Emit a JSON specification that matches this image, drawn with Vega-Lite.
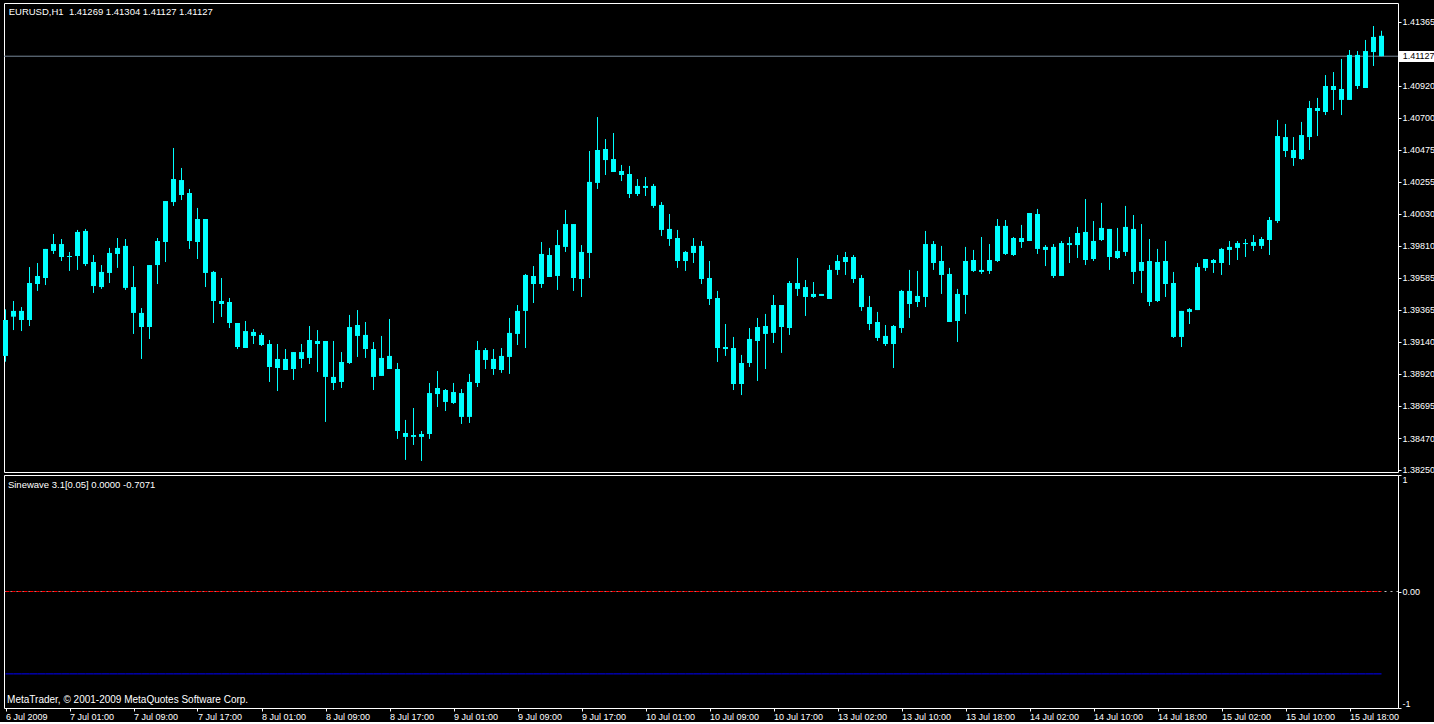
{
  "$schema": "https://vega.github.io/schema/vega-lite/v6.json",
  "background": "#000000",
  "padding": {"left": 2, "top": 2, "right": 0, "bottom": 0},
  "bounds": "flush",
  "spacing": 3,
  "config": {
    "view": {"stroke": "#FFFFFF", "strokeWidth": 1},
    "axis": {"labelColor": "#FFFFFF", "tickColor": "#FFFFFF", "labelFont": "Liberation Sans", "labelFontSize": 9, "domain": false, "grid": false},
    "text": {"font": "Liberation Sans", "fontSize": 9.5}
  },
  "datasets": {
    "bars": [
      {"i":0,"o":1.39043,"h":1.39367,"l":1.39003,"c":1.39293,"sine":0,"lead":-0.7071},
      {"i":1,"o":1.39316,"h":1.39425,"l":1.39223,"c":1.39356,"sine":0,"lead":-0.7071},
      {"i":2,"o":1.39356,"h":1.39383,"l":1.39216,"c":1.39293,"sine":0,"lead":-0.7071},
      {"i":3,"o":1.39293,"h":1.39661,"l":1.39251,"c":1.39550,"sine":0,"lead":-0.7071},
      {"i":4,"o":1.39543,"h":1.39689,"l":1.39495,"c":1.39599,"sine":0,"lead":-0.7071},
      {"i":5,"o":1.39585,"h":1.39787,"l":1.39536,"c":1.39787,"sine":0,"lead":-0.7071},
      {"i":6,"o":1.39773,"h":1.39891,"l":1.39752,"c":1.39821,"sine":0,"lead":-0.7071},
      {"i":7,"o":1.39821,"h":1.39856,"l":1.39703,"c":1.39731,"sine":0,"lead":-0.7071},
      {"i":8,"o":1.39731,"h":1.39766,"l":1.39634,"c":1.39738,"sine":0,"lead":-0.7071},
      {"i":9,"o":1.39738,"h":1.39919,"l":1.39641,"c":1.39905,"sine":0,"lead":-0.7071},
      {"i":10,"o":1.39912,"h":1.39926,"l":1.39668,"c":1.39682,"sine":0,"lead":-0.7071},
      {"i":11,"o":1.39696,"h":1.39745,"l":1.39481,"c":1.39529,"sine":0,"lead":-0.7071},
      {"i":12,"o":1.39522,"h":1.39675,"l":1.39509,"c":1.39627,"sine":0,"lead":-0.7071},
      {"i":13,"o":1.39620,"h":1.39794,"l":1.39550,"c":1.39759,"sine":0,"lead":-0.7071},
      {"i":14,"o":1.39752,"h":1.39863,"l":1.39655,"c":1.39794,"sine":0,"lead":-0.7071},
      {"i":15,"o":1.39808,"h":1.39856,"l":1.39502,"c":1.39516,"sine":0,"lead":-0.7071},
      {"i":16,"o":1.39522,"h":1.39668,"l":1.39196,"c":1.39342,"sine":0,"lead":-0.7071},
      {"i":17,"o":1.39342,"h":1.39376,"l":1.39022,"c":1.39244,"sine":0,"lead":-0.7071},
      {"i":18,"o":1.39244,"h":1.39675,"l":1.39161,"c":1.39675,"sine":0,"lead":-0.7071},
      {"i":19,"o":1.39675,"h":1.39863,"l":1.39543,"c":1.39842,"sine":0,"lead":-0.7071},
      {"i":20,"o":1.39835,"h":1.40120,"l":1.39696,"c":1.40120,"sine":0,"lead":-0.7071},
      {"i":21,"o":1.40113,"h":1.40489,"l":1.40086,"c":1.40273,"sine":0,"lead":-0.7071},
      {"i":22,"o":1.40266,"h":1.40350,"l":1.40127,"c":1.40162,"sine":0,"lead":-0.7071},
      {"i":23,"o":1.40176,"h":1.40204,"l":1.39787,"c":1.39842,"sine":0,"lead":-0.7071},
      {"i":24,"o":1.39835,"h":1.40072,"l":1.39717,"c":1.39995,"sine":0,"lead":-0.7071},
      {"i":25,"o":1.39995,"h":1.39995,"l":1.39522,"c":1.39620,"sine":0,"lead":-0.7071},
      {"i":26,"o":1.39627,"h":1.39634,"l":1.39272,"c":1.39425,"sine":0,"lead":-0.7071},
      {"i":27,"o":1.39425,"h":1.39585,"l":1.39314,"c":1.39404,"sine":0,"lead":-0.7071},
      {"i":28,"o":1.39418,"h":1.39446,"l":1.39237,"c":1.39272,"sine":0,"lead":-0.7071},
      {"i":29,"o":1.39272,"h":1.39272,"l":1.39091,"c":1.39105,"sine":0,"lead":-0.7071},
      {"i":30,"o":1.39098,"h":1.39286,"l":1.39098,"c":1.39216,"sine":0,"lead":-0.7071},
      {"i":31,"o":1.39210,"h":1.39230,"l":1.39126,"c":1.39182,"sine":0,"lead":-0.7071},
      {"i":32,"o":1.39189,"h":1.39203,"l":1.39112,"c":1.39119,"sine":0,"lead":-0.7071},
      {"i":33,"o":1.39126,"h":1.39154,"l":1.38862,"c":1.38966,"sine":0,"lead":-0.7071},
      {"i":34,"o":1.38959,"h":1.39126,"l":1.38799,"c":1.39022,"sine":0,"lead":-0.7071},
      {"i":35,"o":1.39022,"h":1.39091,"l":1.38945,"c":1.38945,"sine":0,"lead":-0.7071},
      {"i":36,"o":1.38952,"h":1.39070,"l":1.38876,"c":1.39070,"sine":0,"lead":-0.7071},
      {"i":37,"o":1.39070,"h":1.39126,"l":1.38959,"c":1.39022,"sine":0,"lead":-0.7071},
      {"i":38,"o":1.39029,"h":1.39251,"l":1.38987,"c":1.39154,"sine":0,"lead":-0.7071},
      {"i":39,"o":1.39147,"h":1.39223,"l":1.38931,"c":1.39126,"sine":0,"lead":-0.7071},
      {"i":40,"o":1.39147,"h":1.39147,"l":1.38584,"c":1.38897,"sine":0,"lead":-0.7071},
      {"i":41,"o":1.38897,"h":1.39147,"l":1.38806,"c":1.38855,"sine":0,"lead":-0.7071},
      {"i":42,"o":1.38862,"h":1.39070,"l":1.38820,"c":1.39001,"sine":0,"lead":-0.7071},
      {"i":43,"o":1.38994,"h":1.39328,"l":1.38987,"c":1.39244,"sine":0,"lead":-0.7071},
      {"i":44,"o":1.39258,"h":1.39362,"l":1.39036,"c":1.39182,"sine":0,"lead":-0.7071},
      {"i":45,"o":1.39189,"h":1.39279,"l":1.39029,"c":1.39091,"sine":0,"lead":-0.7071},
      {"i":46,"o":1.39091,"h":1.39140,"l":1.38806,"c":1.38897,"sine":0,"lead":-0.7071},
      {"i":47,"o":1.38904,"h":1.39182,"l":1.38904,"c":1.39029,"sine":0,"lead":-0.7071},
      {"i":48,"o":1.39043,"h":1.39300,"l":1.38952,"c":1.38952,"sine":0,"lead":-0.7071},
      {"i":49,"o":1.38952,"h":1.38994,"l":1.38466,"c":1.38521,"sine":0,"lead":-0.7071},
      {"i":50,"o":1.38507,"h":1.38598,"l":1.38320,"c":1.38480,"sine":0,"lead":-0.7071},
      {"i":51,"o":1.38480,"h":1.38681,"l":1.38424,"c":1.38493,"sine":0,"lead":-0.7071},
      {"i":52,"o":1.38500,"h":1.38521,"l":1.38313,"c":1.38480,"sine":0,"lead":-0.7071},
      {"i":53,"o":1.38500,"h":1.38855,"l":1.38466,"c":1.38785,"sine":0,"lead":-0.7071},
      {"i":54,"o":1.38778,"h":1.38938,"l":1.38688,"c":1.38820,"sine":0,"lead":-0.7071},
      {"i":55,"o":1.38806,"h":1.38813,"l":1.38660,"c":1.38723,"sine":0,"lead":-0.7071},
      {"i":56,"o":1.38716,"h":1.38855,"l":1.38709,"c":1.38792,"sine":0,"lead":-0.7071},
      {"i":57,"o":1.38785,"h":1.38813,"l":1.38570,"c":1.38619,"sine":0,"lead":-0.7071},
      {"i":58,"o":1.38619,"h":1.38918,"l":1.38577,"c":1.38862,"sine":0,"lead":-0.7071},
      {"i":59,"o":1.38855,"h":1.39147,"l":1.38827,"c":1.39084,"sine":0,"lead":-0.7071},
      {"i":60,"o":1.39084,"h":1.39098,"l":1.38952,"c":1.39015,"sine":0,"lead":-0.7071},
      {"i":61,"o":1.39022,"h":1.39091,"l":1.38911,"c":1.38952,"sine":0,"lead":-0.7071},
      {"i":62,"o":1.38945,"h":1.39098,"l":1.38925,"c":1.39043,"sine":0,"lead":-0.7071},
      {"i":63,"o":1.39036,"h":1.39307,"l":1.38918,"c":1.39203,"sine":0,"lead":-0.7071},
      {"i":64,"o":1.39196,"h":1.39397,"l":1.39119,"c":1.39356,"sine":0,"lead":-0.7071},
      {"i":65,"o":1.39356,"h":1.39613,"l":1.39098,"c":1.39606,"sine":0,"lead":-0.7071},
      {"i":66,"o":1.39599,"h":1.39668,"l":1.39411,"c":1.39543,"sine":0,"lead":-0.7071},
      {"i":67,"o":1.39543,"h":1.39835,"l":1.39516,"c":1.39752,"sine":0,"lead":-0.7071},
      {"i":68,"o":1.39745,"h":1.39794,"l":1.39592,"c":1.39592,"sine":0,"lead":-0.7071},
      {"i":69,"o":1.39599,"h":1.39919,"l":1.39502,"c":1.39814,"sine":0,"lead":-0.7071},
      {"i":70,"o":1.39801,"h":1.40058,"l":1.39766,"c":1.39960,"sine":0,"lead":-0.7071},
      {"i":71,"o":1.39960,"h":1.39960,"l":1.39495,"c":1.39585,"sine":0,"lead":-0.7071},
      {"i":72,"o":1.39578,"h":1.39814,"l":1.39453,"c":1.39766,"sine":0,"lead":-0.7071},
      {"i":73,"o":1.39759,"h":1.40468,"l":1.39585,"c":1.40253,"sine":0,"lead":-0.7071},
      {"i":74,"o":1.40246,"h":1.40704,"l":1.40204,"c":1.40475,"sine":0,"lead":-0.7071},
      {"i":75,"o":1.40482,"h":1.40551,"l":1.40301,"c":1.40405,"sine":0,"lead":-0.7071},
      {"i":76,"o":1.40412,"h":1.40593,"l":1.40322,"c":1.40322,"sine":0,"lead":-0.7071},
      {"i":77,"o":1.40329,"h":1.40371,"l":1.40259,"c":1.40301,"sine":0,"lead":-0.7071},
      {"i":78,"o":1.40308,"h":1.40364,"l":1.40141,"c":1.40169,"sine":0,"lead":-0.7071},
      {"i":79,"o":1.40169,"h":1.40273,"l":1.40155,"c":1.40225,"sine":0,"lead":-0.7071},
      {"i":80,"o":1.40225,"h":1.40287,"l":1.40155,"c":1.40211,"sine":0,"lead":-0.7071},
      {"i":81,"o":1.40225,"h":1.40239,"l":1.40072,"c":1.40086,"sine":0,"lead":-0.7071},
      {"i":82,"o":1.40093,"h":1.40113,"l":1.39877,"c":1.39919,"sine":0,"lead":-0.7071},
      {"i":83,"o":1.39926,"h":1.40030,"l":1.39808,"c":1.39856,"sine":0,"lead":-0.7071},
      {"i":84,"o":1.39863,"h":1.39919,"l":1.39655,"c":1.39703,"sine":0,"lead":-0.7071},
      {"i":85,"o":1.39703,"h":1.39773,"l":1.39634,"c":1.39766,"sine":0,"lead":-0.7071},
      {"i":86,"o":1.39759,"h":1.39863,"l":1.39689,"c":1.39808,"sine":0,"lead":-0.7071},
      {"i":87,"o":1.39808,"h":1.39842,"l":1.39543,"c":1.39578,"sine":0,"lead":-0.7071},
      {"i":88,"o":1.39585,"h":1.39703,"l":1.39397,"c":1.39439,"sine":0,"lead":-0.7071},
      {"i":89,"o":1.39446,"h":1.39495,"l":1.39001,"c":1.39098,"sine":0,"lead":-0.7071},
      {"i":90,"o":1.39091,"h":1.39265,"l":1.39043,"c":1.39105,"sine":0,"lead":-0.7071},
      {"i":91,"o":1.39098,"h":1.39175,"l":1.38806,"c":1.38848,"sine":0,"lead":-0.7071},
      {"i":92,"o":1.38848,"h":1.39050,"l":1.38771,"c":1.38994,"sine":0,"lead":-0.7071},
      {"i":93,"o":1.38994,"h":1.39237,"l":1.38966,"c":1.39161,"sine":0,"lead":-0.7071},
      {"i":94,"o":1.39147,"h":1.39307,"l":1.38869,"c":1.39244,"sine":0,"lead":-0.7071},
      {"i":95,"o":1.39251,"h":1.39335,"l":1.38952,"c":1.39196,"sine":0,"lead":-0.7071},
      {"i":96,"o":1.39203,"h":1.39467,"l":1.39133,"c":1.39397,"sine":0,"lead":-0.7071},
      {"i":97,"o":1.39397,"h":1.39397,"l":1.39064,"c":1.39244,"sine":0,"lead":-0.7071},
      {"i":98,"o":1.39237,"h":1.39564,"l":1.39189,"c":1.39550,"sine":0,"lead":-0.7071},
      {"i":99,"o":1.39550,"h":1.39724,"l":1.39460,"c":1.39509,"sine":0,"lead":-0.7071},
      {"i":100,"o":1.39522,"h":1.39571,"l":1.39321,"c":1.39453,"sine":0,"lead":-0.7071},
      {"i":101,"o":1.39453,"h":1.39557,"l":1.39446,"c":1.39474,"sine":0,"lead":-0.7071},
      {"i":102,"o":1.39474,"h":1.39474,"l":1.39460,"c":1.39460,"sine":0,"lead":-0.7071},
      {"i":103,"o":1.39439,"h":1.39675,"l":1.39439,"c":1.39641,"sine":0,"lead":-0.7071},
      {"i":104,"o":1.39641,"h":1.39745,"l":1.39606,"c":1.39703,"sine":0,"lead":-0.7071},
      {"i":105,"o":1.39696,"h":1.39766,"l":1.39606,"c":1.39731,"sine":0,"lead":-0.7071},
      {"i":106,"o":1.39731,"h":1.39745,"l":1.39550,"c":1.39578,"sine":0,"lead":-0.7071},
      {"i":107,"o":1.39585,"h":1.39606,"l":1.39356,"c":1.39383,"sine":0,"lead":-0.7071},
      {"i":108,"o":1.39383,"h":1.39460,"l":1.39223,"c":1.39265,"sine":0,"lead":-0.7071},
      {"i":109,"o":1.39279,"h":1.39349,"l":1.39147,"c":1.39168,"sine":0,"lead":-0.7071},
      {"i":110,"o":1.39182,"h":1.39258,"l":1.39112,"c":1.39126,"sine":0,"lead":-0.7071},
      {"i":111,"o":1.39126,"h":1.39258,"l":1.38959,"c":1.39251,"sine":0,"lead":-0.7071},
      {"i":112,"o":1.39237,"h":1.39502,"l":1.39203,"c":1.39495,"sine":0,"lead":-0.7071},
      {"i":113,"o":1.39495,"h":1.39641,"l":1.39307,"c":1.39404,"sine":0,"lead":-0.7071},
      {"i":114,"o":1.39418,"h":1.39634,"l":1.39383,"c":1.39460,"sine":0,"lead":-0.7071},
      {"i":115,"o":1.39453,"h":1.39912,"l":1.39383,"c":1.39821,"sine":0,"lead":-0.7071},
      {"i":116,"o":1.39821,"h":1.39842,"l":1.39641,"c":1.39689,"sine":0,"lead":-0.7071},
      {"i":117,"o":1.39703,"h":1.39808,"l":1.39474,"c":1.39606,"sine":0,"lead":-0.7071},
      {"i":118,"o":1.39613,"h":1.39655,"l":1.39279,"c":1.39279,"sine":0,"lead":-0.7071},
      {"i":119,"o":1.39286,"h":1.39509,"l":1.39140,"c":1.39474,"sine":0,"lead":-0.7071},
      {"i":120,"o":1.39467,"h":1.39801,"l":1.39335,"c":1.39703,"sine":0,"lead":-0.7071},
      {"i":121,"o":1.39710,"h":1.39780,"l":1.39627,"c":1.39634,"sine":0,"lead":-0.7071},
      {"i":122,"o":1.39627,"h":1.39870,"l":1.39613,"c":1.39641,"sine":0,"lead":-0.7071},
      {"i":123,"o":1.39634,"h":1.39821,"l":1.39613,"c":1.39710,"sine":0,"lead":-0.7071},
      {"i":124,"o":1.39703,"h":1.39995,"l":1.39696,"c":1.39947,"sine":0,"lead":-0.7071},
      {"i":125,"o":1.39947,"h":1.39988,"l":1.39745,"c":1.39752,"sine":0,"lead":-0.7071},
      {"i":126,"o":1.39745,"h":1.39870,"l":1.39738,"c":1.39863,"sine":0,"lead":-0.7071},
      {"i":127,"o":1.39835,"h":1.39954,"l":1.39794,"c":1.39863,"sine":0,"lead":-0.7071},
      {"i":128,"o":1.39842,"h":1.40037,"l":1.39842,"c":1.40037,"sine":0,"lead":-0.7071},
      {"i":129,"o":1.40030,"h":1.40065,"l":1.39752,"c":1.39787,"sine":0,"lead":-0.7071},
      {"i":130,"o":1.39780,"h":1.39814,"l":1.39668,"c":1.39801,"sine":0,"lead":-0.7071},
      {"i":131,"o":1.39801,"h":1.39821,"l":1.39585,"c":1.39599,"sine":0,"lead":-0.7071},
      {"i":132,"o":1.39599,"h":1.39842,"l":1.39599,"c":1.39828,"sine":0,"lead":-0.7071},
      {"i":133,"o":1.39828,"h":1.39870,"l":1.39689,"c":1.39814,"sine":0,"lead":-0.7071},
      {"i":134,"o":1.39814,"h":1.39940,"l":1.39724,"c":1.39898,"sine":0,"lead":-0.7071},
      {"i":135,"o":1.39905,"h":1.40134,"l":1.39675,"c":1.39710,"sine":0,"lead":-0.7071},
      {"i":136,"o":1.39717,"h":1.39981,"l":1.39703,"c":1.39842,"sine":0,"lead":-0.7071},
      {"i":137,"o":1.39849,"h":1.40107,"l":1.39842,"c":1.39933,"sine":0,"lead":-0.7071},
      {"i":138,"o":1.39926,"h":1.39926,"l":1.39641,"c":1.39731,"sine":0,"lead":-0.7071},
      {"i":139,"o":1.39724,"h":1.39933,"l":1.39717,"c":1.39773,"sine":0,"lead":-0.7071},
      {"i":140,"o":1.39766,"h":1.40086,"l":1.39738,"c":1.39940,"sine":0,"lead":-0.7071},
      {"i":141,"o":1.39926,"h":1.40023,"l":1.39543,"c":1.39627,"sine":0,"lead":-0.7071},
      {"i":142,"o":1.39634,"h":1.39960,"l":1.39481,"c":1.39696,"sine":0,"lead":-0.7071},
      {"i":143,"o":1.39703,"h":1.39856,"l":1.39390,"c":1.39418,"sine":0,"lead":-0.7071},
      {"i":144,"o":1.39425,"h":1.39787,"l":1.39418,"c":1.39696,"sine":0,"lead":-0.7071},
      {"i":145,"o":1.39703,"h":1.39842,"l":1.39453,"c":1.39543,"sine":0,"lead":-0.7071},
      {"i":146,"o":1.39550,"h":1.39627,"l":1.39168,"c":1.39175,"sine":0,"lead":-0.7071},
      {"i":147,"o":1.39175,"h":1.39356,"l":1.39105,"c":1.39356,"sine":0,"lead":-0.7071},
      {"i":148,"o":1.39349,"h":1.39376,"l":1.39265,"c":1.39369,"sine":0,"lead":-0.7071},
      {"i":149,"o":1.39362,"h":1.39689,"l":1.39362,"c":1.39661,"sine":0,"lead":-0.7071},
      {"i":150,"o":1.39655,"h":1.39717,"l":1.39634,"c":1.39717,"sine":0,"lead":-0.7071},
      {"i":151,"o":1.39710,"h":1.39717,"l":1.39620,"c":1.39689,"sine":0,"lead":-0.7071},
      {"i":152,"o":1.39689,"h":1.39794,"l":1.39606,"c":1.39787,"sine":0,"lead":-0.7071},
      {"i":153,"o":1.39780,"h":1.39842,"l":1.39675,"c":1.39801,"sine":0,"lead":-0.7071},
      {"i":154,"o":1.39794,"h":1.39842,"l":1.39710,"c":1.39828,"sine":0,"lead":-0.7071},
      {"i":155,"o":1.39828,"h":1.39856,"l":1.39731,"c":1.39821,"sine":0,"lead":-0.7071},
      {"i":156,"o":1.39808,"h":1.39884,"l":1.39773,"c":1.39835,"sine":0,"lead":-0.7071},
      {"i":157,"o":1.39808,"h":1.39870,"l":1.39787,"c":1.39856,"sine":0,"lead":-0.7071},
      {"i":158,"o":1.39849,"h":1.40009,"l":1.39745,"c":1.39988,"sine":0,"lead":-0.7071},
      {"i":159,"o":1.39981,"h":1.40684,"l":1.39967,"c":1.40572,"sine":0,"lead":-0.7071},
      {"i":160,"o":1.40565,"h":1.40656,"l":1.40426,"c":1.40468,"sine":0,"lead":-0.7071},
      {"i":161,"o":1.40475,"h":1.40565,"l":1.40364,"c":1.40419,"sine":0,"lead":-0.7071},
      {"i":162,"o":1.40412,"h":1.40670,"l":1.40405,"c":1.40579,"sine":0,"lead":-0.7071},
      {"i":163,"o":1.40565,"h":1.40816,"l":1.40475,"c":1.40767,"sine":0,"lead":-0.7071},
      {"i":164,"o":1.40767,"h":1.40837,"l":1.40572,"c":1.40746,"sine":0,"lead":-0.7071},
      {"i":165,"o":1.40739,"h":1.40996,"l":1.40718,"c":1.40920,"sine":0,"lead":-0.7071},
      {"i":166,"o":1.40920,"h":1.41017,"l":1.40753,"c":1.40892,"sine":0,"lead":-0.7071},
      {"i":167,"o":1.40899,"h":1.41108,"l":1.40718,"c":1.40823,"sine":0,"lead":-0.7071},
      {"i":168,"o":1.40823,"h":1.41170,"l":1.40823,"c":1.41136,"sine":0,"lead":-0.7071},
      {"i":169,"o":1.41136,"h":1.41163,"l":1.40899,"c":1.40920,"sine":0,"lead":-0.7071},
      {"i":170,"o":1.40906,"h":1.41240,"l":1.40906,"c":1.41163,"sine":0,"lead":-0.7071},
      {"i":171,"o":1.41156,"h":1.41337,"l":1.41059,"c":1.41261,"sine":0,"lead":-0.7071},
      {"i":172,"o":1.41269,"h":1.41304,"l":1.41127,"c":1.41127,"sine":0,"lead":-0.7071}
    ]
  },
  "vconcat": [
    {
      "width": 1394,
      "height": 469,
      "data": {"name": "bars"},
      "layer": [
        {
          "data": {"values": [{"p": 1.41127}]},
          "mark": {"type": "rule", "color": "#778899", "strokeWidth": 1},
          "encoding": {
            "y": {"field": "p", "type": "quantitative", "scale": {"domain": [1.38236, 1.41497], "zero": false, "nice": false, "padding": 0},
              "axis": {"orient": "right", "title": null, "values": [1.3825, 1.3847, 1.38695, 1.3892, 1.3914, 1.39365, 1.39585, 1.3981, 1.4003, 1.40255, 1.40475, 1.407, 1.4092, 1.41365], "format": ".5f", "labelFlush": false, "labelOverlap": false, "tickSize": 3, "labelPadding": 1}}
          }
        },
        {
          "mark": {"type": "rule", "color": "#00FFFF", "strokeWidth": 1},
          "encoding": {
            "x": {"field": "i", "type": "quantitative", "scale": {"domain": [-0.1875, 174.0625], "zero": false, "nice": false, "padding": 0}, "axis": null},
            "y": {"field": "l", "type": "quantitative", "scale": {"domain": [1.38236, 1.41497], "zero": false, "nice": false, "padding": 0},
              "axis": {"orient": "right", "title": null, "values": [1.3825, 1.3847, 1.38695, 1.3892, 1.3914, 1.39365, 1.39585, 1.3981, 1.4003, 1.40255, 1.40475, 1.407, 1.4092, 1.41365], "format": ".5f", "labelFlush": false, "labelOverlap": false, "tickSize": 3, "labelPadding": 1}},
            "y2": {"field": "h"}
          }
        },
        {
          "mark": {"type": "bar", "color": "#00FFFF", "size": 5},
          "encoding": {
            "x": {"field": "i", "type": "quantitative", "scale": {"domain": [-0.1875, 174.0625], "zero": false, "nice": false, "padding": 0}, "axis": null},
            "y": {"field": "o", "type": "quantitative", "scale": {"domain": [1.38236, 1.41497], "zero": false, "nice": false, "padding": 0},
              "axis": {"orient": "right", "title": null, "values": [1.3825, 1.3847, 1.38695, 1.3892, 1.3914, 1.39365, 1.39585, 1.3981, 1.4003, 1.40255, 1.40475, 1.407, 1.4092, 1.41365], "format": ".5f", "labelFlush": false, "labelOverlap": false, "tickSize": 3, "labelPadding": 1}},
            "y2": {"field": "c"}
          }
        },
        {
          "data": {"values": [{"t": "EURUSD,H1\u00a0\u00a01.41269 1.41304 1.41127 1.41127"}]},
          "mark": {"type": "text", "align": "left", "baseline": "middle", "color": "#FFFFFF", "fontSize": 9.5},
          "encoding": {
            "x": {"datum": 0.4, "type": "quantitative", "scale": {"domain": [-0.1875, 174.0625], "zero": false, "nice": false, "padding": 0}, "axis": null},
            "y": {"datum": 1.41434, "type": "quantitative", "scale": {"domain": [1.38236, 1.41497], "zero": false, "nice": false, "padding": 0},
              "axis": {"orient": "right", "title": null, "values": [1.3825, 1.3847, 1.38695, 1.3892, 1.3914, 1.39365, 1.39585, 1.3981, 1.4003, 1.40255, 1.40475, 1.407, 1.4092, 1.41365], "format": ".5f", "labelFlush": false, "labelOverlap": false, "tickSize": 3, "labelPadding": 1}},
            "text": {"field": "t"}
          }
        },
        {
          "data": {"values": [{"p": 1.41127}]},
          "mark": {"type": "rect", "color": "#FFFFFF", "clip": false},
          "encoding": {
            "x": {"datum": 174.19, "type": "quantitative", "scale": {"domain": [-0.1875, 174.0625], "zero": false, "nice": false, "padding": 0}, "axis": null},
            "x2": {"datum": 178.9},
            "y": {"datum": 1.41163, "type": "quantitative", "scale": {"domain": [1.38236, 1.41497], "zero": false, "nice": false, "padding": 0},
              "axis": {"orient": "right", "title": null, "values": [1.3825, 1.3847, 1.38695, 1.3892, 1.3914, 1.39365, 1.39585, 1.3981, 1.4003, 1.40255, 1.40475, 1.407, 1.4092, 1.41365], "format": ".5f", "labelFlush": false, "labelOverlap": false, "tickSize": 3, "labelPadding": 1}},
            "y2": {"datum": 1.41087}
          }
        },
        {
          "data": {"values": [{"p": 1.41127}]},
          "mark": {"type": "text", "align": "left", "baseline": "middle", "color": "#000000", "fontSize": 9, "clip": false},
          "encoding": {
            "x": {"datum": 174.65, "type": "quantitative", "scale": {"domain": [-0.1875, 174.0625], "zero": false, "nice": false, "padding": 0}, "axis": null},
            "y": {"field": "p", "type": "quantitative", "scale": {"domain": [1.38236, 1.41497], "zero": false, "nice": false, "padding": 0},
              "axis": {"orient": "right", "title": null, "values": [1.3825, 1.3847, 1.38695, 1.3892, 1.3914, 1.39365, 1.39585, 1.3981, 1.4003, 1.40255, 1.40475, 1.407, 1.4092, 1.41365], "format": ".5f", "labelFlush": false, "labelOverlap": false, "tickSize": 3, "labelPadding": 1}},
            "text": {"field": "p", "type": "quantitative", "format": ".5f"}
          }
        }
      ]
    },
    {
      "width": 1394,
      "height": 233,
      "data": {"name": "bars"},
      "layer": [
        {
          "data": {"values": [{"lv": 0}]},
          "mark": {"type": "rule", "color": "#C0C0C0", "strokeWidth": 1, "strokeDash": [2, 4], "strokeDashOffset": 0.5},
          "encoding": {
            "y": {"field": "lv", "type": "quantitative", "scale": {"domain": [-1, 1], "zero": false, "nice": false, "padding": 0},
              "axis": {"orient": "right", "title": null, "values": [-1, 0, 1], "labelExpr": "datum.value == 0 ? '0.00' : (datum.value > 0 ? '1' : '-1')", "labelFlush": true, "labelFlushOffset": 0, "labelOverlap": false, "tickSize": 3, "labelPadding": 1}}
          }
        },
        {
          "mark": {"type": "line", "color": "#0000FF", "strokeWidth": 1},
          "encoding": {
            "x": {"field": "i", "type": "quantitative", "scale": {"domain": [-0.1875, 174.0625], "zero": false, "nice": false, "padding": 0},
              "axis": {"orient": "bottom", "title": null, "values": [0, 8, 16, 24, 32, 40, 48, 56, 64, 72, 80, 88, 96, 104, 112, 120, 128, 136, 144, 152, 160, 168], "labelExpr": "['6 Jul 2009','7 Jul 01:00','7 Jul 09:00','7 Jul 17:00','8 Jul 01:00','8 Jul 09:00','8 Jul 17:00','9 Jul 01:00','9 Jul 09:00','9 Jul 17:00','10 Jul 01:00','10 Jul 09:00','10 Jul 17:00','13 Jul 02:00','13 Jul 10:00','13 Jul 18:00','14 Jul 02:00','14 Jul 10:00','14 Jul 18:00','15 Jul 02:00','15 Jul 10:00','15 Jul 18:00'][round(datum.value/8)]", "labelAlign": "left", "labelFlush": false, "labelOverlap": false, "tickSize": 3, "labelPadding": 1}},
            "y": {"field": "lead", "type": "quantitative", "scale": {"domain": [-1, 1], "zero": false, "nice": false, "padding": 0},
              "axis": {"orient": "right", "title": null, "values": [-1, 0, 1], "labelExpr": "datum.value == 0 ? '0.00' : (datum.value > 0 ? '1' : '-1')", "labelFlush": true, "labelFlushOffset": 0, "labelOverlap": false, "tickSize": 3, "labelPadding": 1}}
          }
        },
        {
          "mark": {"type": "line", "color": "#FF0000", "strokeWidth": 1, "strokeDash": [4, 2]},
          "encoding": {
            "x": {"field": "i", "type": "quantitative", "scale": {"domain": [-0.1875, 174.0625], "zero": false, "nice": false, "padding": 0},
              "axis": {"orient": "bottom", "title": null, "values": [0, 8, 16, 24, 32, 40, 48, 56, 64, 72, 80, 88, 96, 104, 112, 120, 128, 136, 144, 152, 160, 168], "labelExpr": "['6 Jul 2009','7 Jul 01:00','7 Jul 09:00','7 Jul 17:00','8 Jul 01:00','8 Jul 09:00','8 Jul 17:00','9 Jul 01:00','9 Jul 09:00','9 Jul 17:00','10 Jul 01:00','10 Jul 09:00','10 Jul 17:00','13 Jul 02:00','13 Jul 10:00','13 Jul 18:00','14 Jul 02:00','14 Jul 10:00','14 Jul 18:00','15 Jul 02:00','15 Jul 10:00','15 Jul 18:00'][round(datum.value/8)]", "labelAlign": "left", "labelFlush": false, "labelOverlap": false, "tickSize": 3, "labelPadding": 1}},
            "y": {"field": "sine", "type": "quantitative", "scale": {"domain": [-1, 1], "zero": false, "nice": false, "padding": 0},
              "axis": {"orient": "right", "title": null, "values": [-1, 0, 1], "labelExpr": "datum.value == 0 ? '0.00' : (datum.value > 0 ? '1' : '-1')", "labelFlush": true, "labelFlushOffset": 0, "labelOverlap": false, "tickSize": 3, "labelPadding": 1}}
          }
        },
        {
          "data": {"values": [{"t": "Sinewave 3.1[0.05] 0.0000 -0.7071"}]},
          "mark": {"type": "text", "align": "left", "baseline": "middle", "color": "#FFFFFF", "fontSize": 9.5},
          "encoding": {
            "x": {"datum": 0.3, "type": "quantitative", "scale": {"domain": [-0.1875, 174.0625], "zero": false, "nice": false, "padding": 0},
              "axis": {"orient": "bottom", "title": null, "values": [0, 8, 16, 24, 32, 40, 48, 56, 64, 72, 80, 88, 96, 104, 112, 120, 128, 136, 144, 152, 160, 168], "labelExpr": "['6 Jul 2009','7 Jul 01:00','7 Jul 09:00','7 Jul 17:00','8 Jul 01:00','8 Jul 09:00','8 Jul 17:00','9 Jul 01:00','9 Jul 09:00','9 Jul 17:00','10 Jul 01:00','10 Jul 09:00','10 Jul 17:00','13 Jul 02:00','13 Jul 10:00','13 Jul 18:00','14 Jul 02:00','14 Jul 10:00','14 Jul 18:00','15 Jul 02:00','15 Jul 10:00','15 Jul 18:00'][round(datum.value/8)]", "labelAlign": "left", "labelFlush": false, "labelOverlap": false, "tickSize": 3, "labelPadding": 1}},
            "y": {"datum": 0.914, "type": "quantitative", "scale": {"domain": [-1, 1], "zero": false, "nice": false, "padding": 0},
              "axis": {"orient": "right", "title": null, "values": [-1, 0, 1], "labelExpr": "datum.value == 0 ? '0.00' : (datum.value > 0 ? '1' : '-1')", "labelFlush": true, "labelFlushOffset": 0, "labelOverlap": false, "tickSize": 3, "labelPadding": 1}},
            "text": {"field": "t"}
          }
        },
        {
          "data": {"values": [{"t": "MetaTrader, © 2001-2009 MetaQuotes Software Corp."}]},
          "mark": {"type": "text", "align": "left", "baseline": "middle", "color": "#FFFFFF", "fontSize": 10},
          "encoding": {
            "x": {"datum": 0.2, "type": "quantitative", "scale": {"domain": [-0.1875, 174.0625], "zero": false, "nice": false, "padding": 0},
              "axis": {"orient": "bottom", "title": null, "values": [0, 8, 16, 24, 32, 40, 48, 56, 64, 72, 80, 88, 96, 104, 112, 120, 128, 136, 144, 152, 160, 168], "labelExpr": "['6 Jul 2009','7 Jul 01:00','7 Jul 09:00','7 Jul 17:00','8 Jul 01:00','8 Jul 09:00','8 Jul 17:00','9 Jul 01:00','9 Jul 09:00','9 Jul 17:00','10 Jul 01:00','10 Jul 09:00','10 Jul 17:00','13 Jul 02:00','13 Jul 10:00','13 Jul 18:00','14 Jul 02:00','14 Jul 10:00','14 Jul 18:00','15 Jul 02:00','15 Jul 10:00','15 Jul 18:00'][round(datum.value/8)]", "labelAlign": "left", "labelFlush": false, "labelOverlap": false, "tickSize": 3, "labelPadding": 1}},
            "y": {"datum": -0.931, "type": "quantitative", "scale": {"domain": [-1, 1], "zero": false, "nice": false, "padding": 0},
              "axis": {"orient": "right", "title": null, "values": [-1, 0, 1], "labelExpr": "datum.value == 0 ? '0.00' : (datum.value > 0 ? '1' : '-1')", "labelFlush": true, "labelFlushOffset": 0, "labelOverlap": false, "tickSize": 3, "labelPadding": 1}},
            "text": {"field": "t"}
          }
        }
      ]
    }
  ]
}
